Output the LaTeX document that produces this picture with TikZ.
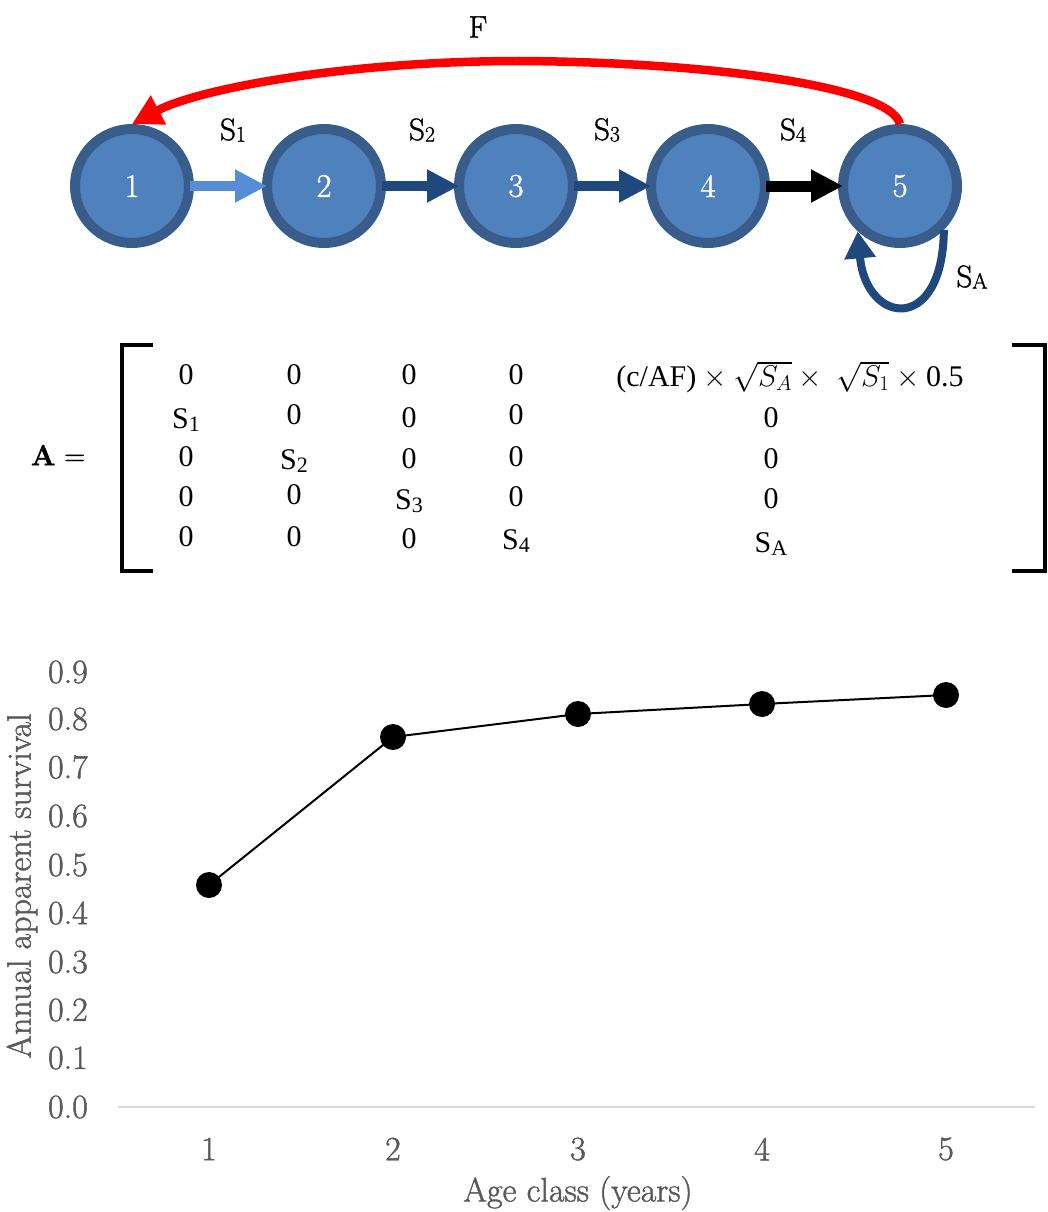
\documentclass[tikz,border=0pt]{standalone}
\usepackage{fix-cm}
\usepackage{fontspec}
\newfontfamily\tnr{Liberation Serif}
\newfontfamily\cam{Latin Modern Roman}[RawFeature={embolden=1.3}]
\usetikzlibrary{arrows.meta}
\definecolor{nodefill}{HTML}{4F81BD}
\definecolor{nodeedge}{HTML}{385D8A}
\definecolor{lightarr}{HTML}{558ED5}
\definecolor{darkarr}{HTML}{1F497D}
\definecolor{axisgray}{HTML}{D9D9D9}
\definecolor{textgray}{HTML}{595959}
\newcommand{\Ssub}[1]{S\raisebox{-1.5pt}{\fontsize{22}{22}\selectfont #1}}
\newcommand{\Tsub}[1]{S\raisebox{-3pt}{\fontsize{22}{22}\selectfont #1}}
\begin{document}
\begin{tikzpicture}[x=1pt,y=-1pt,
  stage/.style={circle,fill=nodefill,draw=nodeedge,line width=10pt,minimum size=114pt,inner sep=0pt,text=white,font=\cam\fontsize{33}{37}\selectfont},
  lab/.style={font=\cam\fontsize{31}{35}\selectfont},
  flow/.style={line width=10pt,-{Triangle[length=32pt,width=31pt]},shorten <=-4pt,shorten >=-5pt},
  ment/.style={font=\tnr\fontsize{30}{34}\selectfont,inner sep=0pt},
  bracket/.style={line width=4.5pt},
  tick/.style={text=textgray,font=\cam\fontsize{34}{38}\selectfont,inner sep=0pt}
]
\path[use as bounding box] (0,0) rectangle (1048,1212);

% stage nodes
\node[stage] (n1) at (132,186) {1};
\node[stage] (n2) at (324,186) {2};
\node[stage] (n3) at (516,186) {3};
\node[stage] (n4) at (708,186) {4};
\node[stage] (n5) at (900,186) {5};

% transitions
\draw[flow,lightarr] (n1.east) -- (n2.west);
\draw[flow,darkarr] (n2.east) -- (n3.west);
\draw[flow,darkarr] (n3.east) -- (n4.west);
\draw[flow,black,line width=11pt] (n4.east) -- (n5.west);

% fecundity arc
\draw[red,line width=8.5pt,-{Triangle[length=30pt,width=31pt]}]
  (n5.north) .. controls (890,85) and (700,62) .. (520,61)
  .. controls (350,61) and (200,88) .. (n1.north);

% self loop
\draw[darkarr,line width=8pt,-{Triangle[length=27pt,width=30pt]}]
  (n5.-45) .. controls (943,335) and (866,325) .. (n5.-133);

% labels
\node[lab] (lF) at (478,27) {F};
\node[lab] (l1) at (233,130) {\Ssub{1}};
\node[lab] (l2) at (422,130) {\Ssub{2}};
\node[lab] (l3) at (607,130) {\Ssub{3}};
\node[lab] (l4) at (793,130) {\Ssub{4}};
\node[lab] (lA) at (972,277) {\Ssub{A}};

% matrix
\node[font=\cam\fontsize{29}{33}\selectfont] (mA) at (58,455) {\textbf{A} =};
\coordinate (lbt) at (153,345);
\coordinate (lbb) at (153,571);
\draw[bracket] (lbt) -| (122,571) -- (lbb);
\coordinate (rbt) at (1012,345);
\coordinate (rbb) at (1012,571);
\draw[bracket] (rbt) -| (1045,571) -- (rbb);

\node[ment] (m11) at (186,375) {0};
\node[ment] (m12) at (294,375) {0};
\node[ment] (m13) at (409,375) {0};
\node[ment] (m14) at (516,375) {0};
\node[ment] (m15) at (790,377) {(c/AF)${}\times\sqrt{S_A}\times{}$\ $\sqrt{S_1}\times{}$0.5};

\node[ment] (m21) at (186,420) {\Tsub{1}};
\node[ment] (m22) at (294,415) {0};
\node[ment] (m23) at (409,418) {0};
\node[ment] (m24) at (516,415) {0};
\node[ment] (m25) at (771,418) {0};

\node[ment] (m31) at (186,457) {0};
\node[ment] (m32) at (294,461) {\Tsub{2}};
\node[ment] (m33) at (409,459) {0};
\node[ment] (m34) at (516,457) {0};
\node[ment] (m35) at (771,459) {0};

\node[ment] (m41) at (186,497) {0};
\node[ment] (m42) at (294,495) {0};
\node[ment] (m43) at (409,501) {\Tsub{3}};
\node[ment] (m44) at (516,497) {0};
\node[ment] (m45) at (771,499) {0};

\node[ment] (m51) at (186,537) {0};
\node[ment] (m52) at (294,537) {0};
\node[ment] (m53) at (409,539) {0};
\node[ment] (m54) at (516,541) {\Tsub{4}};
\node[ment] (m55) at (771,544) {\Tsub{A}};

% chart
\coordinate (ax0) at (118,1107);
\coordinate (ax1) at (1035,1107);
\draw[axisgray,line width=2pt] (ax0) -- (ax1);
\foreach \v/\y in {0.0/1107,0.1/1058,0.2/1010,0.3/962,0.4/913,0.5/865,0.6/816,0.7/767,0.8/719,0.9/672}
  \node[tick,anchor=east] (y\v) at (88,\y) {\v};
\foreach \i/\x in {1/209,2/393,3/578,4/762,5/946}
  \node[tick] (x\i) at (\x,1149) {\i};
\node[tick] (xt) at (578,1193) {Age class (years)};
\node[tick,rotate=90] (yt) at (22,886) {Annual apparent survival};

\foreach \i/\x/\y in {1/209/885,2/393/737,3/578/714,4/762/704,5/946/695}
  \node[circle,fill=black,minimum size=26pt,inner sep=0pt] (p\i) at (\x,\y) {};
\draw[black,line width=2pt] (p1.center) -- (p2.center) -- (p3.center) -- (p4.center) -- (p5.center);
\end{tikzpicture}
\end{document}
